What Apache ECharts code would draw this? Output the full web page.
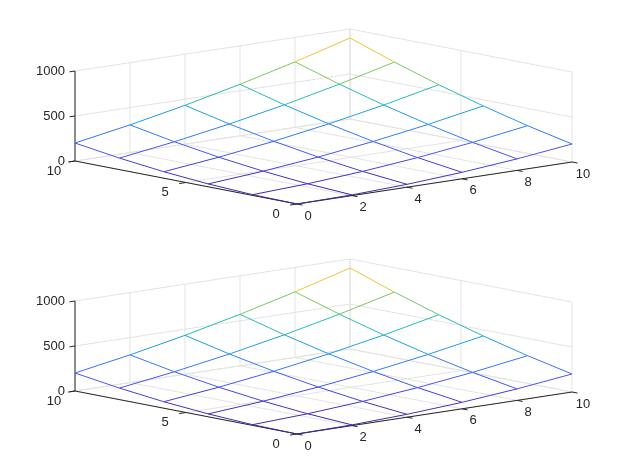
<!DOCTYPE html>
<html><head><meta charset="utf-8">
<script src="https://cdn.jsdelivr.net/npm/echarts@6/dist/echarts.min.js"></script>
<style>html,body{margin:0;padding:0;background:#fff}#c{width:619px;height:457px}</style>
</head><body><div id="c"></div>
<script>
var xVals = [0, 2, 4, 6, 8, 10];
var yVals = [0, 2, 4, 6, 8, 10];
// Z[i][j] : value at x = xVals[i], y = yVals[j]
var Z = [
  [0, 8, 32, 72, 128, 200],
  [8, 36, 80, 140, 216, 308],
  [32, 80, 144, 224, 320, 432],
  [72, 140, 224, 324, 440, 572],
  [128, 216, 320, 440, 576, 728],
  [200, 308, 432, 572, 728, 900]
];
var xTicks = [0, 2, 4, 6, 8, 10];
var yTicks = [0, 5, 10];
var zTicks = [0, 500, 1000];
var panels = [0, 1];

var parula = [[0,[62,38,168]],[0.125,[72,82,244]],[0.25,[46,135,247]],[0.375,[18,177,214]],
  [0.5,[55,200,151]],[0.625,[171,199,57]],[0.75,[254,195,56]],[0.875,[244,229,47]],[1,[249,251,21]]];
function cmap(v){
  var t=Math.max(0,Math.min(1,v/1000));
  for(var k=1;k<parula.length;k++){ if(t<=parula[k][0]){
    var a=parula[k-1],b=parula[k],f=(t-a[0])/(b[0]-a[0]);
    var c=a[1].map(function(q,i){return Math.round(q+(b[1][i]-q)*f);});
    return 'rgb('+c.join(',')+')';}}
  return 'rgb(249,251,21)';
}
function P(x,y,z,p){ return [297+27.5*x-22.2*y, 204+230*p-4.2*x-4.3*y-0.09*z]; }

var segs=[], grids=[], axes=[], labels=[];
panels.forEach(function(p){
  [0,500,1000].forEach(function(z){ grids.push([0,10,z,10,10,z,p]); grids.push([10,10,z,10,0,z,p]); });
  xTicks.forEach(function(x){ grids.push([x,10,0,x,10,1000,p]); });
  yTicks.forEach(function(y){ grids.push([10,y,0,10,y,1000,p]); });
  xTicks.forEach(function(x){ grids.push([x,0,0,x,10,0,p]); });
  yTicks.forEach(function(y){ grids.push([0,y,0,10,y,0,p]); });
  axes.push([0,0,0,10,0,0,p]); axes.push([0,10,0,0,0,0,p]); axes.push([0,10,0,0,10,1000,p]);
  xTicks.forEach(function(x){ axes.push([x,0,0,x,-0.25,0,p]); labels.push([x,0,0,p,'x',String(x)]); });
  yTicks.forEach(function(y){ axes.push([0,y,0,-0.25,y,0,p]); labels.push([0,y,0,p,'y',String(y)]); });
  zTicks.forEach(function(z){ axes.push([0,10,z,-0.2,10,z,p]); labels.push([0,10,z,p,'z',String(z)]); });
  for(var i=0;i<xVals.length;i++) for(var j=0;j<yVals.length;j++){
    if(i+1<xVals.length) segs.push([xVals[i],yVals[j],Z[i][j],xVals[i+1],yVals[j],Z[i+1][j],p]);
    if(j+1<yVals.length) segs.push([xVals[i],yVals[j],Z[i][j],xVals[i],yVals[j+1],Z[i][j+1],p]);
  }
});

function lineRender(color,width){
  return function(params,api){
    var a=P(api.value(0),api.value(1),api.value(2),api.value(6));
    var b=P(api.value(3),api.value(4),api.value(5),api.value(6));
    var c=typeof color==='function'?color(Math.min(api.value(2),api.value(5))):color;
    return {type:'line',shape:{x1:api.coord(a)[0],y1:api.coord(a)[1],x2:api.coord(b)[0],y2:api.coord(b)[1]},
      style:{stroke:c,lineWidth:width}};
  };
}
var dims=['a','b','c','d','e','f','g'];
var chart=echarts.init(document.getElementById('c'));
chart.setOption({
  animation:false,
  grid:{left:0,right:0,top:0,bottom:0},
  xAxis:{type:'value',min:0,max:619,show:false},
  yAxis:{type:'value',min:0,max:457,inverse:true,show:false},
  series:[
    {type:'custom',data:grids,dimensions:dims,renderItem:lineRender('#e3e3e3',1),silent:true},
    {type:'custom',data:axes,dimensions:dims,renderItem:lineRender('#262626',1),silent:true},
    {type:'custom',data:segs,dimensions:dims,renderItem:lineRender(cmap,1),silent:true},
    {type:'custom',data:labels,silent:true,renderItem:function(params,api){
      var d=labels[params.dataIndex];
      var q=api.coord(P(d[0],d[1],d[2],d[3]));
      var x=q[0],y=q[1],align='center';
      if(d[4]==='x'){x+=11;y+=12;}
      else if(d[4]==='y'){x-=21;y+=10;}
      else {x-=10;align='right';}
      return {type:'text',x:x,y:y,style:{text:d[5],fill:'#262626',font:'13px "Liberation Sans", Arial, sans-serif',align:align,verticalAlign:'middle'}};
    }}
  ]
});
</script></body></html>
